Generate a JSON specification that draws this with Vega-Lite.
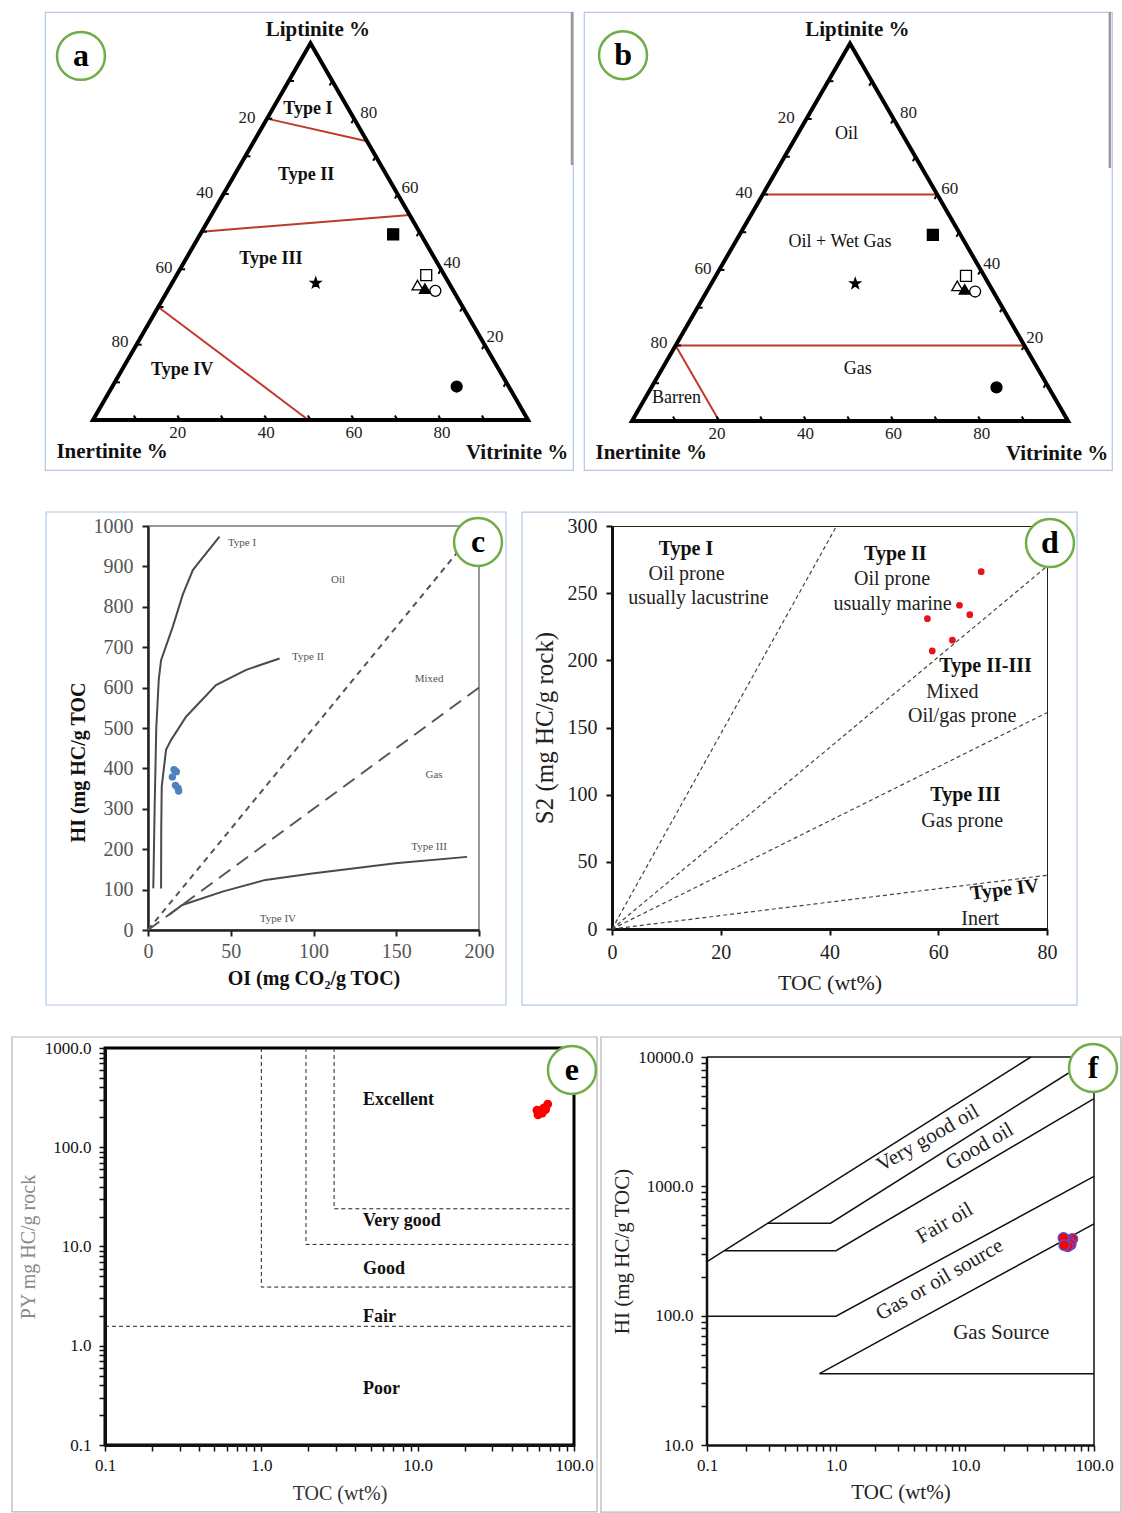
{
"$schema": "https://vega.github.io/schema/vega-lite/v6.json",
"padding": {"left": 9, "top": 10, "right": 0, "bottom": 0},
"background": "white",
"config": {
  "font": "Liberation Serif",
  "view": {"stroke": null},
  "axis": {"grid": false, "labelFont": "Liberation Serif", "titleFont": "Liberation Serif", "labelOverlap": false, "labelFlush": false, "labelBound": false},
  "text": {"font": "Liberation Serif"}
},
"datasets": {
  "tern_outline": [{"u":0,"h":0,"o":1},{"u":50,"h":86.6,"o":2},{"u":100,"h":0,"o":3},{"u":0,"h":0,"o":4},{"u":50,"h":86.6,"o":5}],
  "tern_ticks": [
    {"u":5,"h":8.66,"u2":6.2,"h2":8.66},{"u":10,"h":17.32,"u2":11.2,"h2":17.32},{"u":15,"h":25.98,"u2":16.2,"h2":25.98},{"u":20,"h":34.64,"u2":21.2,"h2":34.64},{"u":25,"h":43.3,"u2":26.2,"h2":43.3},{"u":30,"h":51.96,"u2":31.2,"h2":51.96},{"u":35,"h":60.62,"u2":36.2,"h2":60.62},{"u":40,"h":69.28,"u2":41.2,"h2":69.28},{"u":45,"h":77.94,"u2":46.2,"h2":77.94},
    {"u":95,"h":8.66,"u2":94.4,"h2":7.62},{"u":90,"h":17.32,"u2":89.4,"h2":16.28},{"u":85,"h":25.98,"u2":84.4,"h2":24.94},{"u":80,"h":34.64,"u2":79.4,"h2":33.6},{"u":75,"h":43.3,"u2":74.4,"h2":42.26},{"u":70,"h":51.96,"u2":69.4,"h2":50.92},{"u":65,"h":60.62,"u2":64.4,"h2":59.58},{"u":60,"h":69.28,"u2":59.4,"h2":68.24},{"u":55,"h":77.94,"u2":54.4,"h2":76.9},
    {"u":10,"h":0,"u2":9.4,"h2":1.04},{"u":20,"h":0,"u2":19.4,"h2":1.04},{"u":30,"h":0,"u2":29.4,"h2":1.04},{"u":40,"h":0,"u2":39.4,"h2":1.04},{"u":50,"h":0,"u2":49.4,"h2":1.04},{"u":60,"h":0,"u2":59.4,"h2":1.04},{"u":70,"h":0,"u2":69.4,"h2":1.04},{"u":80,"h":0,"u2":79.4,"h2":1.04},{"u":90,"h":0,"u2":89.4,"h2":1.04}
  ],
  "tern_ticklabels": [
    {"u":35.4,"h":69.4,"t":"20"},{"u":25.7,"h":52.2,"t":"40"},{"u":16.3,"h":34.9,"t":"60"},{"u":6.2,"h":17.9,"t":"80"},
    {"u":63.4,"h":70.6,"t":"80"},{"u":72.9,"h":53.3,"t":"60"},{"u":82.5,"h":36.1,"t":"40"},{"u":92.4,"h":19.1,"t":"20"},
    {"u":19.5,"h":-3.0,"t":"20"},{"u":39.8,"h":-3.0,"t":"40"},{"u":60.0,"h":-3.0,"t":"60"},{"u":80.2,"h":-3.0,"t":"80"}
  ],
  "tern_titles": [{"u":51.7,"h":89.7,"t":"Liptinite %"},{"u":4.4,"h":-7.4,"t":"Inertinite %"},{"u":97.5,"h":-7.6,"t":"Vitrinite %"}],
  "tern_samples": [{"sample":"A","u":69.0,"h":42.7},{"sample":"B","u":51.2,"h":31.5},{"sample":"C","u":76.6,"h":33.3},{"sample":"D","u":74.6,"h":31.0},{"sample":"E","u":76.3,"h":30.2},{"sample":"F","u":78.7,"h":29.7},{"sample":"G","u":83.6,"h":7.7}],
  "a_regions": [{"u":49.4,"h":71.5,"t":"Type I"},{"u":49.0,"h":56.3,"t":"Type II"},{"u":40.9,"h":37.0,"t":"Type III"},{"u":20.5,"h":11.5,"t":"Type IV"}],
  "a_lines": [{"u":40,"h":69.28,"u2":63,"h2":64.1},{"u":25,"h":43.3,"u2":72.8,"h2":47.1},{"u":15,"h":25.98,"u2":49.5,"h2":0}],
  "b_regions": [{"u":49.2,"h":65.8,"t":"Oil"},{"u":47.7,"h":41.1,"t":"Oil + Wet Gas"},{"u":51.8,"h":11.9,"t":"Gas"},{"u":10.2,"h":5.3,"t":"Barren"}],
  "b_lines": [{"u":30,"h":51.96,"u2":70,"h2":51.96},{"u":10,"h":17.32,"u2":90,"h2":17.32},{"u":10,"h":17.32,"u2":20,"h2":0}],
  "c_curves": [
    {"curve":"I","o":1,"oi":3.2,"hi":103},{"curve":"I","o":2,"oi":4.0,"hi":300},{"curve":"I","o":3,"oi":5.0,"hi":500},{"curve":"I","o":4,"oi":6.5,"hi":620},{"curve":"I","o":5,"oi":7.9,"hi":668},{"curve":"I","o":6,"oi":15,"hi":751},{"curve":"I","o":7,"oi":21,"hi":830},{"curve":"I","o":8,"oi":27.1,"hi":891},{"curve":"I","o":9,"oi":31.1,"hi":912},{"curve":"I","o":10,"oi":43.2,"hi":974},
    {"curve":"II","o":1,"oi":7.9,"hi":103},{"curve":"II","o":2,"oi":8.0,"hi":250},{"curve":"II","o":3,"oi":8.3,"hi":355},{"curve":"II","o":4,"oi":10.9,"hi":446},{"curve":"II","o":5,"oi":13.9,"hi":470},{"curve":"II","o":6,"oi":23,"hi":528},{"curve":"II","o":7,"oi":41.1,"hi":606},{"curve":"II","o":8,"oi":59.3,"hi":644},{"curve":"II","o":9,"oi":79.5,"hi":672},
    {"curve":"III","o":1,"oi":12.6,"hi":37},{"curve":"III","o":2,"oi":20.7,"hi":62},{"curve":"III","o":3,"oi":45,"hi":95},{"curve":"III","o":4,"oi":71,"hi":124},{"curve":"III","o":5,"oi":99.2,"hi":140},{"curve":"III","o":6,"oi":149.5,"hi":165},{"curve":"III","o":7,"oi":192.8,"hi":181}
  ],
  "c_dash": [{"line":"oil","o":1,"oi":0,"hi":0},{"line":"oil","o":2,"oi":200,"hi":1000},{"line":"gas","o":1,"oi":0,"hi":0},{"line":"gas","o":2,"oi":200,"hi":600}],
  "c_labels": [{"oi":56.8,"hi":958,"t":"Type I"},{"oi":114.8,"hi":866,"t":"Oil"},{"oi":96.7,"hi":676,"t":"Type II"},{"oi":169.8,"hi":621,"t":"Mixed"},{"oi":172.8,"hi":384,"t":"Gas"},{"oi":169.8,"hi":205,"t":"Type III"},{"oi":78.5,"hi":27,"t":"Type IV"}],
  "c_points": [{"oi":15.7,"hi":397},{"oi":17.1,"hi":392},{"oi":14.7,"hi":379},{"oi":16.6,"hi":358},{"oi":18.1,"hi":351},{"oi":18.5,"hi":344}],
  "d_lines": [{"line":"1","toc":0,"s2":0},{"line":"1","toc":41.3,"s2":300},{"line":"2","toc":0,"s2":0},{"line":"2","toc":80,"s2":270},{"line":"3","toc":0,"s2":0},{"line":"3","toc":80,"s2":161},{"line":"4","toc":0,"s2":0},{"line":"4","toc":80,"s2":40}],
  "d_points": [{"toc":67.9,"s2":266},{"toc":63.9,"s2":241},{"toc":65.8,"s2":234},{"toc":58.0,"s2":231},{"toc":62.6,"s2":215},{"toc":58.9,"s2":207}],
  "d_bold": [{"toc":13.6,"s2":283,"t":"Type I"},{"toc":52.1,"s2":279.4,"t":"Type II"},{"toc":68.7,"s2":195.7,"t":"Type II-III"},{"toc":65.0,"s2":99.6,"t":"Type III"},{"toc":72.2,"s2":29.3,"t":"Type IV"}],
  "d_plain": [{"toc":13.7,"s2":264,"t":"Oil prone"},{"toc":15.9,"s2":246.1,"t":"usually lacustrine"},{"toc":51.5,"s2":260.3,"t":"Oil prone"},{"toc":51.6,"s2":242.1,"t":"usually marine"},{"toc":62.6,"s2":176.6,"t":"Mixed"},{"toc":64.4,"s2":158.4,"t":"Oil/gas prone"},{"toc":64.4,"s2":80.2,"t":"Gas prone"},{"toc":67.7,"s2":7.5,"t":"Inert"}],
  "e_lines": [
    {"seg":"poor","o":1,"toc":0.1,"py":1.57},{"seg":"poor","o":2,"toc":100,"py":1.57},
    {"seg":"fair","o":1,"toc":1,"py":1000},{"seg":"fair","o":2,"toc":1,"py":3.9},{"seg":"fair","o":3,"toc":100,"py":3.9},
    {"seg":"good","o":1,"toc":1.93,"py":1000},{"seg":"good","o":2,"toc":1.93,"py":10.5},{"seg":"good","o":3,"toc":100,"py":10.5},
    {"seg":"vgood","o":1,"toc":2.92,"py":1000},{"seg":"vgood","o":2,"toc":2.92,"py":24},{"seg":"vgood","o":3,"toc":100,"py":24}
  ],
  "e_labels": [{"toc":4.47,"py":299,"t":"Excellent"},{"toc":4.47,"py":18.1,"t":"Very good"},{"toc":4.47,"py":5.93,"t":"Good"},{"toc":4.47,"py":1.95,"t":"Fair"},{"toc":4.47,"py":0.366,"t":"Poor"}],
  "e_points": [{"toc":58.9,"py":212},{"toc":58.0,"py":236},{"toc":62.6,"py":221},{"toc":63.9,"py":247},{"toc":65.8,"py":240},{"toc":67.9,"py":272}],
  "f_lines": [
    {"seg":"L1","o":1,"toc":0.1,"hi":262},{"seg":"L1","o":2,"toc":32.4,"hi":10000},
    {"seg":"L2","o":1,"toc":0.296,"hi":519},{"seg":"L2","o":2,"toc":0.907,"hi":519},{"seg":"L2","o":3,"toc":100,"hi":10000},
    {"seg":"L3","o":1,"toc":0.137,"hi":318},{"seg":"L3","o":2,"toc":1.0,"hi":318},{"seg":"L3","o":3,"toc":100,"hi":4764},
    {"seg":"L4","o":1,"toc":0.1,"hi":99},{"seg":"L4","o":2,"toc":1.0,"hi":99},{"seg":"L4","o":3,"toc":100,"hi":1195},
    {"seg":"L5","o":1,"toc":100,"hi":513},{"seg":"L5","o":2,"toc":0.745,"hi":35.6},{"seg":"L5","o":3,"toc":100,"hi":35.6}
  ],
  "f_labels": [{"toc":5.16,"hi":2350,"t":"Very good oil"},{"toc":13.0,"hi":2023,"t":"Good oil"},{"toc":6.96,"hi":518,"t":"Fair oil"},{"toc":6.37,"hi":189,"t":"Gas or oil source"}],
  "f_flat": [{"toc":19.1,"hi":73.8,"t":"Gas Source"}],
  "f_points": [{"toc":67.9,"hi":392},{"toc":63.9,"hi":377},{"toc":65.8,"hi":355},{"toc":58.0,"hi":399},{"toc":62.6,"hi":344},{"toc":58.9,"hi":351}]
},
"spacing": 39,
"vconcat": [
  {
    "spacing": 34,
    "hconcat": [
      {"width": 1, "height": 1, "data": {"values": []}, "mark": "point", "encoding": {"x": {"field": "sx", "type": "quantitative", "axis": null}, "y": {"field": "sy", "type": "quantitative", "axis": null}}},
      {
        "spacing": 9,
        "hconcat": [
          {
            "width": 528, "height": 458,
            "view": {"stroke": "#b4c7e7", "strokeWidth": 1.2},
            "layer": [
              {"data": {"values": [{}]}, "mark": {"type": "rule", "color": "#9a9a9a", "strokeWidth": 2.5}, "encoding": {"x": {"datum": 110.1, "type": "quantitative", "axis": null}, "y": {"datum": 93.79, "type": "quantitative", "axis": null}, "y2": {"datum": 58.6}}},
              {
                "encoding": {
                  "x": {"field": "u", "type": "quantitative", "scale": {"domain": [-11.03, 110.34], "nice": false, "zero": false}, "axis": null},
                  "y": {"field": "h", "type": "quantitative", "scale": {"domain": [-11.49, 93.79], "nice": false, "zero": false}, "axis": null}
                },
                "layer": [
                  {"data": {"name": "a_lines"}, "mark": {"type": "rule", "color": "#c0392b", "strokeWidth": 2}, "encoding": {"x2": {"field": "u2"}, "y2": {"field": "h2"}}},
                  {"data": {"name": "tern_outline"}, "mark": {"type": "line", "color": "black", "strokeWidth": 4, "strokeJoin": "miter"}, "encoding": {"order": {"field": "o", "type": "quantitative"}}},
                  {"data": {"name": "tern_ticks"}, "mark": {"type": "rule", "color": "black", "strokeWidth": 2}, "encoding": {"x2": {"field": "u2"}, "y2": {"field": "h2"}}},
                  {"data": {"name": "tern_ticklabels"}, "mark": {"type": "text", "fontSize": 17, "color": "#222"}, "encoding": {"text": {"field": "t"}}},
                  {"data": {"name": "tern_titles"}, "mark": {"type": "text", "fontSize": 21, "fontWeight": "bold", "color": "#111"}, "encoding": {"text": {"field": "t"}}},
                  {"data": {"name": "a_regions"}, "mark": {"type": "text", "fontSize": 18, "fontWeight": "bold", "color": "#111"}, "encoding": {"text": {"field": "t"}}},
                  {"data": {"name": "tern_samples"}, "mark": {"type": "point", "filled": true, "size": 120, "stroke": "black", "strokeWidth": 1.3, "opacity": 1},
                   "encoding": {
                     "shape": {"field": "sample", "type": "nominal", "legend": null, "scale": {"domain": ["A","B","C","D","E","F","G"], "range": ["square", "M0,-1L0.235,-0.324L0.951,-0.309L0.38,0.124L0.588,0.809L0,0.4L-0.588,0.809L-0.38,0.124L-0.951,-0.309L-0.235,-0.324Z", "square", "triangle-up", "triangle-up", "circle", "circle"]}},
                     "fill": {"field": "sample", "type": "nominal", "legend": null, "scale": {"domain": ["A","B","C","D","E","F","G"], "range": ["black", "black", "transparent", "transparent", "black", "transparent", "black"]}}
                   }}
                ]
              },
              {"data": {"values": [{}]}, "mark": {"type": "point", "shape": "circle", "size": 2300, "filled": true, "fill": "white", "stroke": "#70ad47", "strokeWidth": 2.5, "opacity": 1}, "encoding": {"x": {"datum": -2.76, "type": "quantitative", "axis": null}, "y": {"datum": 83.7, "type": "quantitative", "axis": null}}},
              {"data": {"values": [{}]}, "mark": {"type": "text", "text": "a", "fontSize": 32, "fontWeight": "bold", "color": "black"}, "encoding": {"x": {"datum": -2.76, "type": "quantitative", "axis": null}, "y": {"datum": 83.7, "type": "quantitative", "axis": null}}}
            ]
          },
          {
            "width": 528, "height": 458,
            "view": {"stroke": "#b4c7e7", "strokeWidth": 1.2},
            "layer": [
              {"data": {"values": [{}]}, "mark": {"type": "rule", "color": "#9a9a9a", "strokeWidth": 2.5}, "encoding": {"x": {"datum": 109.6, "type": "quantitative", "axis": null}, "y": {"datum": 93.81, "type": "quantitative", "axis": null}, "y2": {"datum": 58.0}}},
              {
                "encoding": {
                  "x": {"field": "u", "type": "quantitative", "scale": {"domain": [-11.01, 110.09], "nice": false, "zero": false}, "axis": null},
                  "y": {"field": "h", "type": "quantitative", "scale": {"domain": [-11.24, 93.81], "nice": false, "zero": false}, "axis": null}
                },
                "layer": [
                  {"data": {"name": "b_lines"}, "mark": {"type": "rule", "color": "#c0392b", "strokeWidth": 2}, "encoding": {"x2": {"field": "u2"}, "y2": {"field": "h2"}}},
                  {"data": {"name": "tern_outline"}, "mark": {"type": "line", "color": "black", "strokeWidth": 4, "strokeJoin": "miter"}, "encoding": {"order": {"field": "o", "type": "quantitative"}}},
                  {"data": {"name": "tern_ticks"}, "mark": {"type": "rule", "color": "black", "strokeWidth": 2}, "encoding": {"x2": {"field": "u2"}, "y2": {"field": "h2"}}},
                  {"data": {"name": "tern_ticklabels"}, "mark": {"type": "text", "fontSize": 17, "color": "#222"}, "encoding": {"text": {"field": "t"}}},
                  {"data": {"name": "tern_titles"}, "mark": {"type": "text", "fontSize": 21, "fontWeight": "bold", "color": "#111"}, "encoding": {"text": {"field": "t"}}},
                  {"data": {"name": "b_regions"}, "mark": {"type": "text", "fontSize": 18, "color": "#111"}, "encoding": {"text": {"field": "t"}}},
                  {"data": {"name": "tern_samples"}, "mark": {"type": "point", "filled": true, "size": 120, "stroke": "black", "strokeWidth": 1.3, "opacity": 1},
                   "encoding": {
                     "shape": {"field": "sample", "type": "nominal", "legend": null, "scale": {"domain": ["A","B","C","D","E","F","G"], "range": ["square", "M0,-1L0.235,-0.324L0.951,-0.309L0.38,0.124L0.588,0.809L0,0.4L-0.588,0.809L-0.38,0.124L-0.951,-0.309L-0.235,-0.324Z", "square", "triangle-up", "triangle-up", "circle", "circle"]}},
                     "fill": {"field": "sample", "type": "nominal", "legend": null, "scale": {"domain": ["A","B","C","D","E","F","G"], "range": ["black", "black", "transparent", "transparent", "black", "transparent", "black"]}}
                   }}
                ]
              },
              {"data": {"values": [{}]}, "mark": {"type": "point", "shape": "circle", "size": 2300, "filled": true, "fill": "white", "stroke": "#70ad47", "strokeWidth": 2.5, "opacity": 1}, "encoding": {"x": {"datum": -2.06, "type": "quantitative", "axis": null}, "y": {"datum": 83.9, "type": "quantitative", "axis": null}}},
              {"data": {"values": [{}]}, "mark": {"type": "text", "text": "b", "fontSize": 32, "fontWeight": "bold", "color": "black"}, "encoding": {"x": {"datum": -2.06, "type": "quantitative", "axis": null}, "y": {"datum": 83.9, "type": "quantitative", "axis": null}}}
            ]
          }
        ]
      }
    ]
  },
  {
    "spacing": 27,
    "vconcat": [
      {
        "spacing": 34,
        "hconcat": [
          {"width": 1, "height": 1, "data": {"values": []}, "mark": "point", "encoding": {"x": {"field": "sx", "type": "quantitative", "axis": null}, "y": {"field": "sy", "type": "quantitative", "axis": null}}},
          {
            "spacing": 12,
            "hconcat": [
              {
                "width": 331, "height": 404,
                "view": {"stroke": "#777", "strokeWidth": 1.5},
                "layer": [
                  {"data": {"values": [{}]}, "mark": {"type": "rect", "fill": "transparent", "stroke": "#b4c7e7", "strokeWidth": 1.2}, "encoding": {"x": {"datum": -61.6, "type": "quantitative"}, "x2": {"datum": 216.3}, "y": {"datum": -185.6, "type": "quantitative"}, "y2": {"datum": 1034.7}}},
                  {
                    "encoding": {
                      "x": {"field": "oi", "type": "quantitative", "scale": {"domain": [0, 200], "nice": false},
                            "axis": {"values": [0, 50, 100, 150, 200], "title": "OI (mg CO₂/g TOC)", "titleFontSize": 20, "titleFontWeight": "bold", "titleColor": "#111", "titlePadding": 7, "labelFontSize": 20, "labelColor": "#555", "labelPadding": 5, "tickSize": 6, "tickWidth": 2, "tickColor": "#222", "domainColor": "#222", "domainWidth": 2.5}},
                      "y": {"field": "hi", "type": "quantitative", "scale": {"domain": [0, 1000], "nice": false},
                            "axis": {"values": [0, 100, 200, 300, 400, 500, 600, 700, 800, 900, 1000], "format": "d", "title": "HI (mg HC/g TOC", "titleY": 236, "titleFontSize": 20, "titleFontWeight": "bold", "titleColor": "#111", "titlePadding": 5, "labelFontSize": 20, "labelColor": "#555", "labelPadding": 9, "tickSize": 6, "tickWidth": 2, "tickColor": "#222", "domainColor": "#222", "domainWidth": 2.5}}
                    },
                    "layer": [
                      {"data": {"name": "c_curves"}, "mark": {"type": "line", "color": "#4a4a4a", "strokeWidth": 2}, "encoding": {"detail": {"field": "curve", "type": "nominal"}, "order": {"field": "o", "type": "quantitative"}}},
                      {"data": {"name": "c_dash"}, "transform": [{"filter": "datum.line === 'oil'"}], "mark": {"type": "line", "color": "#555", "strokeWidth": 2, "strokeDash": [6, 5]}, "encoding": {"order": {"field": "o", "type": "quantitative"}}},
                      {"data": {"name": "c_dash"}, "transform": [{"filter": "datum.line === 'gas'"}], "mark": {"type": "line", "color": "#555", "strokeWidth": 2, "strokeDash": [14, 8]}, "encoding": {"order": {"field": "o", "type": "quantitative"}}},
                      {"data": {"name": "c_labels"}, "mark": {"type": "text", "fontSize": 11, "color": "#555"}, "encoding": {"text": {"field": "t"}}},
                      {"data": {"name": "c_points"}, "mark": {"type": "circle", "size": 55, "color": "#4f81bd", "opacity": 1}}
                    ]
                  },
                  {"data": {"values": [{}]}, "mark": {"type": "point", "shape": "circle", "size": 2300, "filled": true, "fill": "white", "stroke": "#70ad47", "strokeWidth": 2.5, "opacity": 1}, "encoding": {"x": {"datum": 199.4, "type": "quantitative"}, "y": {"datum": 960.4, "type": "quantitative"}}},
                  {"data": {"values": [{}]}, "mark": {"type": "text", "text": "c", "fontSize": 32, "fontWeight": "bold", "color": "black"}, "encoding": {"x": {"datum": 199.4, "type": "quantitative"}, "y": {"datum": 960.4, "type": "quantitative"}}}
                ]
              },
              {
                "width": 435, "height": 403,
                "view": {"stroke": "#222", "strokeWidth": 1},
                "layer": [
                  {"data": {"values": [{}]}, "mark": {"type": "rect", "fill": "transparent", "stroke": "#b4c7e7", "strokeWidth": 1.2}, "encoding": {"x": {"datum": -16.55, "type": "quantitative"}, "x2": {"datum": 85.52}, "y": {"datum": -56.6, "type": "quantitative"}, "y2": {"datum": 310.4}}},
                  {
                    "encoding": {
                      "x": {"field": "toc", "type": "quantitative", "scale": {"domain": [0, 80], "nice": false},
                            "axis": {"values": [0, 20, 40, 60, 80], "title": "TOC (wt%)", "titleFontSize": 22, "titleFontWeight": "normal", "titleColor": "#222", "titlePadding": 10, "labelFontSize": 20, "labelColor": "#222", "labelPadding": 7, "tickSize": 6, "tickWidth": 2, "tickColor": "#111", "domainColor": "#111", "domainWidth": 3}},
                      "y": {"field": "s2", "type": "quantitative", "scale": {"domain": [0, 300], "nice": false},
                            "axis": {"values": [0, 50, 100, 150, 200, 250, 300], "title": "S2 (mg HC/g rock)", "titleFontSize": 25, "titleFontWeight": "normal", "titleColor": "#222", "titlePadding": 10, "labelFontSize": 20, "labelColor": "#222", "labelPadding": 9, "tickSize": 6, "tickWidth": 2, "tickColor": "#111", "domainColor": "#111", "domainWidth": 3}}
                    },
                    "layer": [
                      {"data": {"name": "d_lines"}, "mark": {"type": "line", "color": "#444", "strokeWidth": 1.2, "strokeDash": [4, 3]}, "encoding": {"detail": {"field": "line", "type": "nominal"}}},
                      {"data": {"name": "d_points"}, "mark": {"type": "circle", "size": 45, "color": "#e8121b", "opacity": 1}},
                      {"data": {"name": "d_bold"}, "transform": [{"filter": "datum.t !== 'Type IV'"}], "mark": {"type": "text", "fontSize": 20, "fontWeight": "bold", "color": "#111"}, "encoding": {"text": {"field": "t"}}},
                      {"data": {"name": "d_bold"}, "transform": [{"filter": "datum.t === 'Type IV'"}], "mark": {"type": "text", "fontSize": 20, "fontWeight": "bold", "color": "#111", "angle": 353}, "encoding": {"text": {"field": "t"}}},
                      {"data": {"name": "d_plain"}, "mark": {"type": "text", "fontSize": 20, "color": "#222"}, "encoding": {"text": {"field": "t"}}}
                    ]
                  },
                  {"data": {"values": [{}]}, "mark": {"type": "point", "shape": "circle", "size": 2300, "filled": true, "fill": "white", "stroke": "#70ad47", "strokeWidth": 2.5, "opacity": 1}, "encoding": {"x": {"datum": 80.55, "type": "quantitative"}, "y": {"datum": 287.3, "type": "quantitative"}}},
                  {"data": {"values": [{}]}, "mark": {"type": "text", "text": "d", "fontSize": 32, "fontWeight": "bold", "color": "black"}, "encoding": {"x": {"datum": 80.55, "type": "quantitative"}, "y": {"datum": 287.3, "type": "quantitative"}}}
                ]
              }
            ]
          }
        ]
      },
      {
        "spacing": -1,
        "hconcat": [
          {"width": 1, "height": 1, "data": {"values": []}, "mark": "point", "encoding": {"x": {"field": "sx", "type": "quantitative", "axis": null}, "y": {"field": "sy", "type": "quantitative", "axis": null}}},
          {
            "spacing": -3,
            "hconcat": [
              {
                "width": 469, "height": 397,
                "view": {"stroke": "black", "strokeWidth": 3},
                "layer": [
                  {"data": {"values": [{}]}, "mark": {"type": "rect", "fill": "transparent", "stroke": "#b4b4b4", "strokeWidth": 1.2}, "encoding": {"x": {"datum": 0.0254, "type": "quantitative"}, "x2": {"datum": 140.3}, "y": {"datum": 0.0212, "type": "quantitative"}, "y2": {"datum": 1291}}},
                  {
                    "encoding": {
                      "x": {"field": "toc", "type": "quantitative", "scale": {"type": "log", "domain": [0.1, 100], "nice": false},
                            "axis": {"values": [0.1,0.2,0.3,0.4,0.5,0.6,0.7,0.8,0.9,1,2,3,4,5,6,7,8,9,10,20,30,40,50,60,70,80,90,100], "labelExpr": "indexof([0.1,1,10,100,1000,10000], datum.value) >= 0 ? format(datum.value, '.1f') : ''", "title": "TOC (wt%)", "titleFontSize": 20, "titleFontWeight": "normal", "titleColor": "#333", "titlePadding": 10, "labelFontSize": 17, "labelColor": "#111", "labelPadding": 6, "tickSize": 6, "tickWidth": 1.5, "tickColor": "#111", "domainColor": "#111", "domainWidth": 3}},
                      "y": {"field": "py", "type": "quantitative", "scale": {"type": "log", "domain": [0.1, 1000], "nice": false},
                            "axis": {"values": [0.1,0.2,0.3,0.4,0.5,0.6,0.7,0.8,0.9,1,2,3,4,5,6,7,8,9,10,20,30,40,50,60,70,80,90,100,200,300,400,500,600,700,800,900,1000], "labelExpr": "indexof([0.1,1,10,100,1000,10000], datum.value) >= 0 ? format(datum.value, '.1f') : ''", "title": "PY mg HC/g rock", "titleFontSize": 20, "titleFontWeight": "normal", "titleColor": "#8a8a8a", "titlePadding": 6, "labelFontSize": 17, "labelColor": "#111", "labelPadding": 8, "tickSize": 6, "tickWidth": 1.5, "tickColor": "#111", "domainColor": "#111", "domainWidth": 3}}
                    },
                    "layer": [
                      {"data": {"name": "e_lines"}, "mark": {"type": "line", "color": "#222", "strokeWidth": 1, "strokeDash": [4, 3]}, "encoding": {"detail": {"field": "seg", "type": "nominal"}, "order": {"field": "o", "type": "quantitative"}}},
                      {"data": {"name": "e_labels"}, "mark": {"type": "text", "fontSize": 18, "fontWeight": "bold", "color": "#111", "align": "left"}, "encoding": {"text": {"field": "t"}}},
                      {"data": {"name": "e_points"}, "mark": {"type": "circle", "size": 80, "color": "#ff0000", "opacity": 1}}
                    ]
                  },
                  {"data": {"values": [{}]}, "mark": {"type": "point", "shape": "circle", "size": 2300, "filled": true, "fill": "white", "stroke": "#70ad47", "strokeWidth": 2.5, "opacity": 1}, "encoding": {"x": {"datum": 97.0, "type": "quantitative"}, "y": {"datum": 600, "type": "quantitative"}}},
                  {"data": {"values": [{}]}, "mark": {"type": "text", "text": "e", "fontSize": 32, "fontWeight": "bold", "color": "black"}, "encoding": {"x": {"datum": 97.0, "type": "quantitative"}, "y": {"datum": 600, "type": "quantitative"}}}
                ]
              },
              {
                "width": 387, "height": 397,
                "view": {"stroke": null},
                "layer": [
                  {"data": {"values": [{}]}, "mark": {"type": "rect", "fill": "transparent", "stroke": "#b4b4b4", "strokeWidth": 1.2}, "encoding": {"x": {"datum": 0.01507, "type": "quantitative"}, "x2": {"datum": 161.8}, "y": {"datum": 3.03, "type": "quantitative"}, "y2": {"datum": 14280}}},
                  {"data": {"values": [{}]}, "mark": {"type": "rule", "color": "#111", "strokeWidth": 2.5}, "encoding": {"x": {"datum": 0.1, "type": "quantitative"}, "y": {"datum": 10, "type": "quantitative"}, "y2": {"datum": 10000}}},
                  {"data": {"values": [{}]}, "mark": {"type": "rule", "color": "#111", "strokeWidth": 1.5}, "encoding": {"x": {"datum": 0.1, "type": "quantitative"}, "x2": {"datum": 100}, "y": {"datum": 10000, "type": "quantitative"}}},
                  {"data": {"values": [{}]}, "mark": {"type": "rule", "color": "#111", "strokeWidth": 1.5}, "encoding": {"x": {"datum": 100, "type": "quantitative"}, "y": {"datum": 10, "type": "quantitative"}, "y2": {"datum": 10000}}},
                  {
                    "encoding": {
                      "x": {"field": "toc", "type": "quantitative", "scale": {"type": "log", "domain": [0.1, 100], "nice": false},
                            "axis": {"values": [0.1,0.2,0.3,0.4,0.5,0.6,0.7,0.8,0.9,1,2,3,4,5,6,7,8,9,10,20,30,40,50,60,70,80,90,100], "labelExpr": "indexof([0.1,1,10,100,1000,10000], datum.value) >= 0 ? format(datum.value, '.1f') : ''", "title": "TOC (wt%)", "titleFontSize": 21, "titleFontWeight": "normal", "titleColor": "#222", "titlePadding": 8, "labelFontSize": 17, "labelColor": "#111", "labelPadding": 6, "tickSize": 6, "tickWidth": 1.5, "tickColor": "#111", "domainColor": "#111", "domainWidth": 2.5}},
                      "y": {"field": "hi", "type": "quantitative", "scale": {"type": "log", "domain": [10, 11739], "nice": false},
                            "axis": {"domain": false, "values": [10,20,30,40,50,60,70,80,90,100,200,300,400,500,600,700,800,900,1000,2000,3000,4000,5000,6000,7000,8000,9000,10000], "labelExpr": "indexof([0.1,1,10,100,1000,10000], datum.value) >= 0 ? format(datum.value, '.1f') : ''", "title": "HI (mg HC/g TOC)", "titleY": 203, "titleFontSize": 21, "titleFontWeight": "normal", "titleColor": "#222", "titlePadding": 5, "labelFontSize": 17, "labelColor": "#111", "labelPadding": 8, "tickSize": 6, "tickWidth": 1.5, "tickColor": "#111"}}
                    },
                    "layer": [
                      {"data": {"name": "f_lines"}, "mark": {"type": "line", "color": "#111", "strokeWidth": 1.5}, "encoding": {"detail": {"field": "seg", "type": "nominal"}, "order": {"field": "o", "type": "quantitative"}}},
                      {"data": {"name": "f_labels"}, "mark": {"type": "text", "fontSize": 21, "color": "#222", "angle": 330}, "encoding": {"text": {"field": "t"}}},
                      {"data": {"name": "f_flat"}, "mark": {"type": "text", "fontSize": 21, "color": "#222"}, "encoding": {"text": {"field": "t"}}},
                      {"data": {"name": "f_points"}, "mark": {"type": "point", "shape": "circle", "size": 110, "filled": true, "fill": "#ff0000", "stroke": "#5a4fcf", "strokeWidth": 1.5, "opacity": 1}}
                    ]
                  },
                  {"data": {"values": [{}]}, "mark": {"type": "point", "shape": "circle", "size": 2300, "filled": true, "fill": "white", "stroke": "#70ad47", "strokeWidth": 2.5, "opacity": 1}, "encoding": {"x": {"datum": 98.2, "type": "quantitative"}, "y": {"datum": 8222, "type": "quantitative"}}},
                  {"data": {"values": [{}]}, "mark": {"type": "text", "text": "f", "fontSize": 32, "fontWeight": "bold", "color": "black"}, "encoding": {"x": {"datum": 98.2, "type": "quantitative"}, "y": {"datum": 8222, "type": "quantitative"}}}
                ]
              }
            ]
          }
        ]
      }
    ]
  }
]
}
